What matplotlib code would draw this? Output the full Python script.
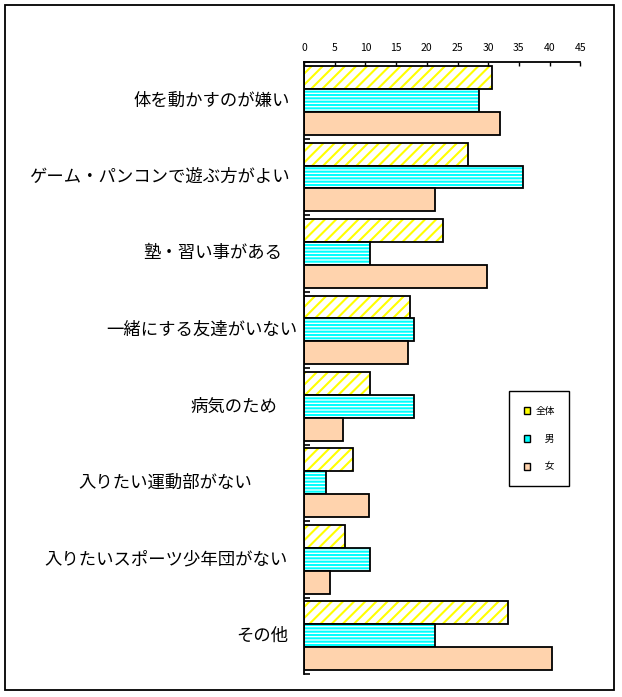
import matplotlib.pyplot as plt
from matplotlib.patches import Patch, Rectangle
import numpy as np

plt.rcParams['font.family'] = ['Noto Sans CJK JP', 'DejaVu Sans']
plt.rcParams['hatch.linewidth'] = 1.5

categories = ['体を動かすのが嫌い', 'ゲーム・パンコンで遊ぶ方がよい', '塾・習い事がある',
              '一緒にする友達がいない', '病気のため', '入りたい運動部がない',
              '入りたいスポーツ少年団がない', 'その他']
series_names = ['全体', '　男', '　女']
total = [30.6, 26.7, 22.6, 17.2, 10.7, 8.0, 6.7, 33.3]
male = [28.5, 35.7, 10.7, 17.9, 17.9, 3.6, 10.8, 21.4]
female = [32.0, 21.3, 29.8, 16.9, 6.3, 10.6, 4.2, 40.4]
x_ticks = list(range(0, 50, 5))

# how far each category label ends left of the axis (pixels)
label_gap = [14, 14, 22, 7, 27, 52, 16, 16]

fig = plt.figure(figsize=(6.22, 6.97), dpi=100)
ax = fig.add_axes([304 / 622, 23 / 697, (580.3 - 304) / 622, (674 - 62.3) / 697])

y = np.arange(len(categories))
h = 0.3
series = [total, male, female]
faces = ['white', 'white', '#FFD3AD']
hatch_cols = ['#FFFF00', '#00FFFF', '#FFD3AD']
hatches = ['///', '-----', None]
for k, vals in enumerate(series):
    pos = y + (k - 1) * h
    ax.barh(pos, vals, height=h, color=faces[k], edgecolor=hatch_cols[k],
            hatch=hatches[k], linewidth=0)
    ax.barh(pos, vals, height=h, fill=False, edgecolor='black', linewidth=1.3)

ax.set_xlim(0, 45)
ax.set_ylim(7.5, -0.5)
ax.xaxis.tick_top()
ax.set_xticks(x_ticks)
ax.tick_params(axis='x', direction='in', length=3, width=1, pad=7, labelsize=7.5)
ax.set_yticks(np.arange(-0.5, 8, 1))
ax.set_yticklabels([])
ax.tick_params(axis='y', direction='in', length=4, width=1.2)
for s in ['right', 'bottom']:
    ax.spines[s].set_visible(False)
for s in ['left', 'top']:
    ax.spines[s].set_linewidth(1.3)

for i, (cat, gap) in enumerate(zip(categories, label_gap)):
    ax.annotate(cat, xy=(0, i), xycoords=('axes fraction', 'data'),
                xytext=(-gap, 0), textcoords='offset pixels',
                ha='right', va='center', fontsize=12.5)

handles = [Patch(facecolor='#FFFF00', edgecolor='black', linewidth=1),
           Patch(facecolor='#00FFFF', edgecolor='black', linewidth=1),
           Patch(facecolor='#FFD3AD', edgecolor='black', linewidth=1)]
leg = fig.legend(handles, series_names, loc='upper left',
                 bbox_to_anchor=(509 / 622, 1 - 391 / 697), frameon=True,
                 fancybox=False, edgecolor='black', framealpha=1, fontsize=7,
                 handlelength=0.7, handleheight=0.7, labelspacing=1.85,
                 borderpad=1.5, handletextpad=0.5, borderaxespad=0)
leg.get_frame().set_linewidth(1.0)

fig.add_artist(Rectangle((5 / 622, 7 / 697), 609 / 622, 685 / 697,
                         transform=fig.transFigure, fill=False,
                         edgecolor='black', linewidth=1.3))

fig.savefig('out.png', dpi=100)
